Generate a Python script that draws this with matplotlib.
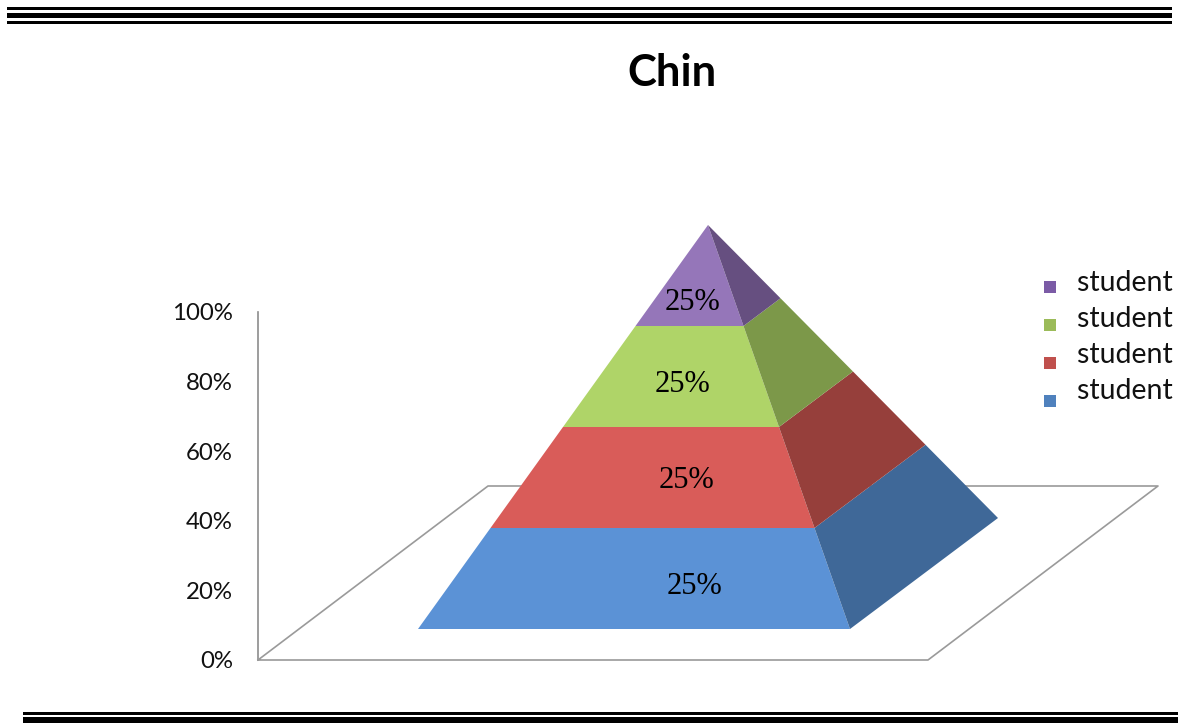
import matplotlib
matplotlib.use("Agg")
import matplotlib.pyplot as plt
import numpy as np

# data
categories = ["student 4", "student 3", "student 2", "student 1"]
values = [25, 25, 25, 25]
value_labels = ["25%", "25%", "25%", "25%"]
tick_values = [0, 20, 40, 60, 80, 100]
tick_labels = ["0%", "20%", "40%", "60%", "80%", "100%"]
legend_labels = ["student 1", "student 2", "student 3", "student 4"]

front_colors = ["#5B92D6", "#D95C59", "#AFD468", "#9576B9"]
side_colors = ["#3F6898", "#963F3B", "#7C9849", "#664F80"]
legend_colors = ["#7B5BA6", "#9BBB59", "#C0504D", "#4F81BD"]

W, H = 1178, 723

fig = plt.figure(figsize=(W / 100, H / 100), dpi=100)
ax = fig.add_axes([0, 0, 1, 1])
ax.set_xlim(0, W)
ax.set_ylim(H, 0)
ax.axis("off")

# frame rules, page border of the scan
for x0, x1, y0, y1 in [(7, 1172, 7, 9.5), (7, 1172, 12.5, 18), (7, 1172, 20.5, 23.5),
                       (23, 1178, 712, 714.5), (23, 1178, 717, 722.5)]:
    ax.fill_between([x0, x1], y0, y1, color="black", lw=0)

ax.text(672, 73, "Chin", family="Lato", fontweight="bold", fontsize=31.5,
        ha="center", va="center", color="black")

# value axis and floor
axis_bottom, axis_top = 660, 312
def axis_y(v):
    return axis_bottom - (axis_bottom - axis_top) * v / 100.0

ax.plot([258, 258], [axis_top, axis_bottom], color="#8C8C8C", lw=1.2, zorder=1)
ax.plot([258, 928, 1158, 488, 258], [660, 660, 486, 486, 660], color="#9A9A9A", lw=1.2, zorder=1)
for v, lab in zip(tick_values, tick_labels):
    ax.text(233, axis_y(v) + 2, lab, family="Lato", fontsize=17.3, ha="right",
            va="center", color="#111111")

# pyramid, stacked from the values
base_left = np.array([418.0, 629.0])
base_right = np.array([850.0, 629.0])
base_back = np.array([998.0, 518.0])
apex = np.array([708.0, 225.0])
label_pos = [(694, 586), (687, 481), (683, 384), (693, 302)]

total = float(sum(values))
bottom = 0.0
for i, val in enumerate(values):
    t0 = bottom / total
    t1 = (bottom + val) / total
    l0 = base_left + t0 * (apex - base_left)
    l1 = base_left + t1 * (apex - base_left)
    r0 = base_right + t0 * (apex - base_right)
    r1 = base_right + t1 * (apex - base_right)
    b0 = base_back + t0 * (apex - base_back)
    b1 = base_back + t1 * (apex - base_back)
    ax.fill(*zip(l0, r0, r1, l1), color=front_colors[i], lw=0, zorder=2)
    ax.fill(*zip(r0, b0, b1, r1), color=side_colors[i], lw=0, zorder=2)
    ax.text(label_pos[i][0], label_pos[i][1], value_labels[i], family="Liberation Serif",
            fontsize=22, ha="center", va="center", color="black", zorder=3)
    bottom += val

# legend, runs off the right edge like in the original
legend_text_y = [283, 319, 355, 391]
legend_box_y = [287, 325, 363, 401]
for lab, c, ty, by in zip(legend_labels, legend_colors, legend_text_y, legend_box_y):
    ax.fill([1044, 1056, 1056, 1044], [by - 6, by - 6, by + 6, by + 6], color=c, lw=0)
    ax.text(1077, ty, lab, family="Lato", fontsize=20.5, ha="left", va="center",
            color="#111111", clip_on=True)

fig.savefig("out.png", dpi=100)
